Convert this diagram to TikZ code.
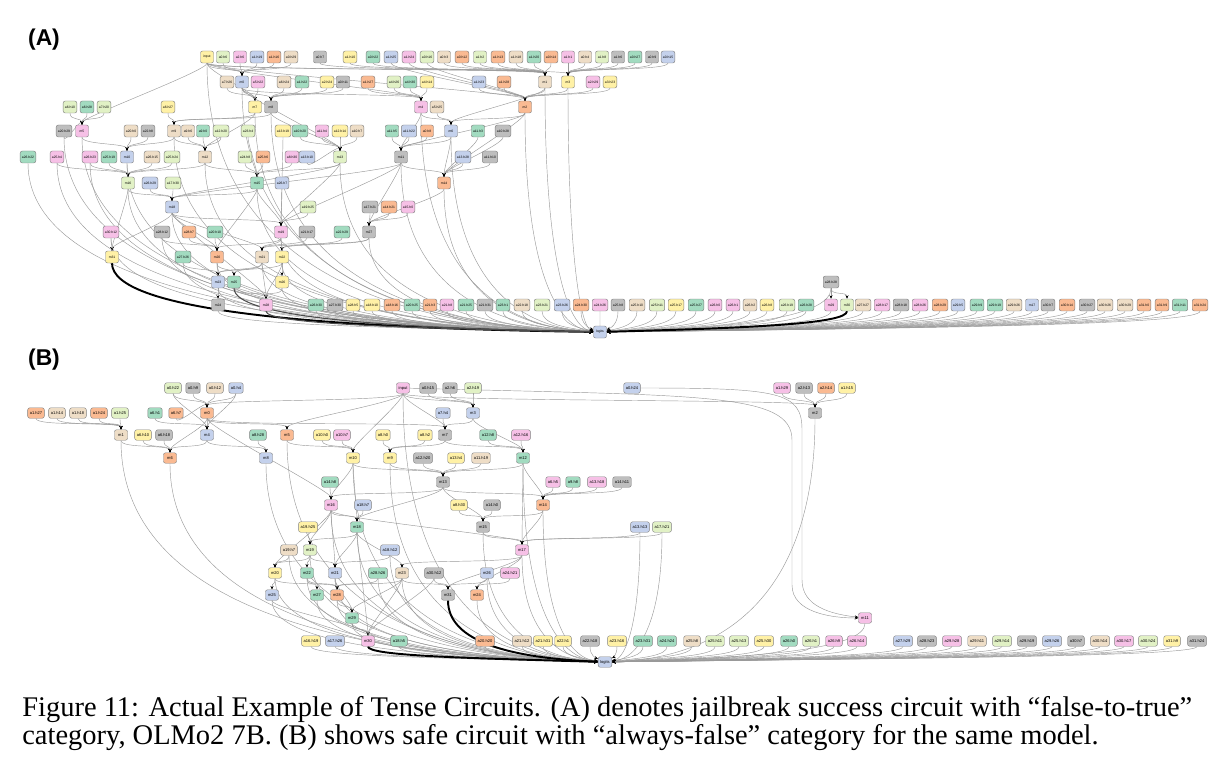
\documentclass[tikz,border=0pt]{standalone}
\usepackage{fontspec}
\setmainfont{Liberation Serif}
\setsansfont{Liberation Sans}
\usetikzlibrary{arrows.meta,calc,backgrounds}
\definecolor{cYel}{RGB}{255,241,166}
\definecolor{cPnk}{RGB}{246,192,230}
\definecolor{cBlu}{RGB}{196,209,236}
\definecolor{cOrg}{RGB}{250,186,146}
\definecolor{cTan}{RGB}{238,221,198}
\definecolor{cGry}{RGB}{190,190,190}
\definecolor{cTel}{RGB}{162,219,192}
\definecolor{cLim}{RGB}{225,241,197}
\tikzset{
  nd/.style={draw=black!50, line width=0.25pt, rounded corners=1.2pt, inner xsep=1pt, inner ysep=0pt, minimum width=0.26cm, minimum height=0.24cm, font=\sffamily\fontsize{1.9}{2.2}\selectfont},
  ndB/.style={nd, minimum height=0.21cm, inner xsep=1.2pt, font=\sffamily\fontsize{2.3}{2.6}\selectfont},
  ed/.style={draw=black!40, line width=0.25pt, -{Stealth[length=2pt,width=1.7pt,color=black]},
    to path={.. controls ($(\tikztostart)+(0,14)$) and ($(\tikztotarget)+(0,-14)$) .. (\tikztotarget)}},
  lg/.style={to path={.. controls ($(\tikztostart)!.7!(\tikztostart |- \tikztotarget)$) and ($(\tikztotarget)!.6!(\tikztostart |- \tikztotarget)+(0,-4)$) .. (\tikztotarget)}},
  heavy/.style={draw=black, line width=1.1pt},
  medium/.style={draw=black!70, line width=0.6pt},
  panel/.style={font=\sffamily\bfseries\fontsize{13}{15}\selectfont, anchor=base, inner sep=0pt},
  capline/.style={font=\fontsize{16.2}{19}\selectfont, anchor=base west, inner sep=0pt}
}
\begin{document}
\begin{tikzpicture}[x=0.02cm, y=-0.02cm]
  \useasboundingbox (0,0) rectangle (1229,780);
  \node[panel] (labA) at (44,46) {(A)};
  \node[panel] (labB) at (44,365) {(B)};

  % panel A
  \foreach \x/\y/\nm/\lb/\cl in {
    207/57/Ainput/input/cYel, 223/57/Aa0h6/a0.h6/cLim, 240/57/Aa2h6/a2.h6/cPnk, 257/57/Aa1h19/a1.h19/cBlu,
    274/57/Aa1h16/a1.h16/cOrg, 291/57/Aa0h29/a0.h29/cTan, 320/57/Aa0h7/a0.h7/cGry, 350/57/Aa1h10/a1.h10/cYel,
    373/57/Aa0h22/a0.h22/cTel, 391/57/Aa1h25/a1.h25/cBlu, 409/57/Aa1h24/a1.h24/cPnk, 427/57/Aa0h16/a0.h16/cLim,
    444/57/Aa0h3/a0.h3/cTan, 462/57/Aa0h12/a0.h12/cOrg, 480/57/Aa1h2/a1.h2/cLim, 498/57/Aa1h13/a1.h13/cOrg,
    516/57/Aa1h18/a1.h18/cTan, 534/57/Aa1h20/a1.h20/cTel, 551/57/Aa0h14/a0.h14/cOrg, 568/57/Aa1h1/a1.h1/cPnk,
    585/57/Aa0h4/a0.h4/cTan, 602/57/Aa1h8/a1.h8/cLim, 618/57/Aa1h6/a1.h6/cGry, 635/57/Aa0h27/a0.h27/cTel,
    652/57/Aa0h9/a0.h9/cGry, 668/57/Aa0h15/a0.h15/cBlu,
    227/82/Aa7h26/a7.h26/cTan, 242/82/Am0/m0/cBlu, 258/82/Aa5h22/a5.h22/cPnk, 284/82/Aa6h24/a6.h24/cTan,
    302/82/Aa1h22/a1.h22/cTel, 327/82/Aa2h24/a2.h24/cYel, 343/82/Aa0h11/a0.h11/cGry, 368/82/Aa1h27/a1.h27/cOrg,
    394/82/Aa4h26/a4.h26/cLim, 410/82/Aa4h30/a4.h30/cTel, 427/82/Aa4h14/a4.h14/cYel, 479/82/Aa1h23/a1.h23/cBlu,
    504/82/Aa1h28/a1.h28/cOrg, 545/82/Am1/m1/cTan, 568/82/Am3/m3/cYel, 593/82/Aa2h29/a2.h29/cPnk,
    610/82/Aa3h23/a3.h23/cYel,
    70/107/Aa6h10/a6.h10/cLim, 87/107/Aa6h28/a6.h28/cTel, 104/107/Aa7h20/a7.h20/cLim, 168/107/Aa6h27/a6.h27/cYel,
    255/107/Am7/m7/cYel, 271/107/Am8/m8/cGry, 421/107/Am4/m4/cPnk, 437/107/Aa5h25/a5.h25/cTan, 525/107/Am2/m2/cOrg,
    64/131/Aa20h29/a20.h29/cGry, 82/131/Am5/m5/cPnk, 131/131/Aa20h0/a20.h0/cTan, 148/131/Aa22h8/a22.h8/cGry,
    174/131/Am9/m9/cTan, 188/131/Aa9h6/a9.h6/cTan, 203/131/Aa9h0/a9.h0/cTel, 221/131/Aa12h20/a12.h20/cLim,
    248/131/Aa23h4/a23.h4/cLim, 283/131/Aa13h19/a13.h19/cYel, 300/131/Aa10h20/a10.h20/cTel, 322/131/Aa11h4/a11.h4/cPnk,
    340/131/Aa12h14/a12.h14/cYel, 357/131/Aa10h7/a10.h7/cTan, 392/131/Aa11h5/a11.h5/cTel, 409/131/Aa11h22/a11.h22/cBlu,
    427/131/Aa0h8/a0.h8/cOrg, 451/131/Am6/m6/cBlu, 478/131/Aa11h3/a11.h3/cTel, 503/131/Aa10h28/a10.h28/cGry,
    28/157/Aa26h22/a26.h22/cTel, 57/157/Aa25h4/a25.h4/cPnk, 90/157/Aa26h23/a26.h23/cPnk, 109/157/Aa25h19/a25.h19/cTel,
    127/157/Am10/m10/cBlu, 152/157/Aa26h15/a26.h15/cTan, 172/157/Aa25h24/a25.h24/cLim, 205/157/Am12/m12/cTan,
    245/157/Aa24h8/a24.h8/cLim, 263/157/Aa25h6/a25.h6/cOrg, 292/157/Aa8h30/a8.h30/cPnk, 307/157/Aa13h10/a13.h10/cBlu,
    340/157/Am13/m13/cLim, 401/157/Am11/m11/cGry, 463/157/Aa13h28/a13.h28/cBlu, 490/157/Aa11h10/a11.h10/cGry,
    128/183/Am16/m16/cLim, 150/183/Aa26h29/a26.h29/cBlu, 173/183/Aa17h30/a17.h30/cLim, 257/183/Am15/m15/cTel,
    282/183/Aa26h7/a26.h7/cBlu, 444/183/Am14/m14/cOrg,
    172/207/Am18/m18/cBlu, 308/207/Aa19h25/a19.h25/cLim, 370/207/Aa17h21/a17.h21/cGry, 389/207/Aa14h21/a14.h21/cOrg,
    408/207/Aa15h0/a15.h0/cPnk,
    111/232/Aa30h12/a30.h12/cPnk, 162/232/Aa28h12/a28.h12/cGry, 189/232/Aa28h7/a28.h7/cOrg, 215/232/Aa20h10/a20.h10/cTel,
    281/232/Am19/m19/cPnk, 307/232/Aa21h17/a21.h17/cGry, 342/232/Aa22h29/a22.h29/cTel, 369/232/Am27/m27/cGry,
    112/257/Am31/m31/cYel, 183/257/Aa27h26/a27.h26/cTel, 217/257/Am20/m20/cOrg, 262/257/Am21/m21/cTan,
    282/257/Am22/m22/cYel,
    218/282/Am23/m23/cBlu, 234/282/Am25/m25/cTel, 282/282/Am26/m26/cYel, 831/282/Aa28h28/a28.h28/cGry,
    218/305/Am24/m24/cGry, 266/305/Am28/m28/cPnk, 831/305/Am29/m29/cPnk, 847/305/Am30/m30/cLim,
    600/332/Alogits/logits/cBlu}
    {\node[nd, fill=\cl] (\nm) at (\x,\y) {\lb};}
  \foreach \x/\lb/\cl [count=\i] in {
    316/a26.h30/cTel, 335/a27.h30/cGry, 353/a28.h5/cYel, 372/a18.h10/cYel, 392/a18.h16/cOrg, 412/a20.h25/cTel,
    430/a21.h3/cOrg, 447/a21.h8/cPnk, 466/a21.h25/cTel, 485/a21.h31/cGry, 503/a23.h1/cTel, 522/a22.h18/cTan,
    542/a23.h21/cLim, 562/a23.h26/cBlu, 581/a24.h30/cOrg, 600/a24.h26/cPnk, 618/a25.h8/cGry, 637/a25.h10/cTan,
    657/a25.h11/cLim, 676/a25.h17/cYel, 696/a25.h27/cTel, 715/a26.h0/cPnk, 733/a26.h1/cPnk, 750/a26.h2/cTan,
    767/a26.h8/cYel, 787/a26.h19/cLim, 806/a26.h28/cTel, 863/a27.h27/cTan, 882/a28.h17/cPnk, 901/a28.h18/cGry,
    920/a28.h26/cPnk, 940/a28.h29/cOrg, 958/a29.h5/cBlu, 977/a29.h9/cTel, 995/a29.h19/cTel, 1014/a29.h26/cTan,
    1032/m17/cBlu, 1048/a30.h7/cGry, 1067/a30.h14/cOrg, 1087/a30.h27/cGry, 1105/a30.h26/cTan, 1125/a30.h29/cTan,
    1144/a31.h0/cOrg, 1162/a31.h9/cOrg, 1180/a31.h11/cTel, 1200/a31.h24/cOrg}
    {\node[nd, fill=\cl] (Ab\i) at (\x,305) {\lb};}

  % panel B
  \foreach \x/\y/\nm/\lb/\cl in {
    173/388/Ba0h22/a0.h22/cLim, 193/388/Ba0h9/a0.h9/cGry, 215/388/Ba0h12/a0.h12/cTan, 236/388/Ba0h4/a0.h4/cBlu,
    403/388/Binput/input/cPnk, 428/388/Ba0h15/a0.h15/cGry, 450/388/Ba2h6/a2.h6/cGry, 473/388/Ba2h19/a2.h19/cLim,
    632/388/Ba0h24/a0.h24/cBlu, 782/388/Ba1h29/a1.h29/cPnk, 804/388/Ba2h13/a2.h13/cGry, 826/388/Ba2h14/a2.h14/cOrg,
    847/388/Ba1h15/a1.h15/cYel,
    36/413/Ba1h27/a1.h27/cOrg, 57/413/Ba1h14/a1.h14/cTan, 78/413/Ba1h18/a1.h18/cTan, 99/413/Ba1h24/a1.h24/cOrg,
    120/413/Ba1h25/a1.h25/cLim, 155/413/Ba6h1/a6.h1/cTel, 176/413/Ba6h7/a6.h7/cOrg, 207/413/Bm0/m0/cOrg,
    443/413/Ba7h4/a7.h4/cBlu, 473/413/Bm3/m3/cBlu, 815/413/Bm2/m2/cGry,
    121/435/Bm1/m1/cTan, 143/435/Ba6h10/a6.h10/cYel, 164/435/Ba6h18/a6.h18/cGry, 207/435/Bm4/m4/cBlu,
    258/435/Ba8h28/a8.h28/cTel, 287/435/Bm5/m5/cOrg, 322/435/Ba10h0/a10.h0/cYel, 342/435/Ba10h7/a10.h7/cPnk,
    383/435/Ba8h0/a8.h0/cYel, 425/435/Ba8h2/a8.h2/cYel, 445/435/Bm7/m7/cGry, 488/435/Ba12h8/a12.h8/cTel,
    521/435/Ba12h16/a12.h16/cPnk,
    170/458/Bm6/m6/cOrg, 266/458/Bm8/m8/cBlu, 353/458/Bm10/m10/cYel, 390/458/Bm9/m9/cYel,
    423/458/Ba12h20/a12.h20/cGry, 456/458/Ba13h4/a13.h4/cYel, 481/458/Ba11h19/a11.h19/cTan, 523/458/Bm12/m12/cTel,
    330/482/Ba14h8/a14.h8/cTel, 443/482/Bm13/m13/cGry, 553/482/Ba6h5/a6.h5/cPnk, 573/482/Ba9h8/a9.h8/cTel,
    597/482/Ba13h18/a13.h18/cPnk, 622/482/Ba14h11/a14.h11/cGry,
    331/505/Bm16/m16/cPnk, 363/505/Ba18h7/a18.h7/cBlu, 459/505/Ba8h30/a8.h30/cYel, 492/505/Ba14h0/a14.h0/cGry,
    543/505/Bm14/m14/cOrg,
    308/527/Ba19h25/a19.h25/cYel, 357/527/Bm18/m18/cTel, 483/527/Bm15/m15/cGry, 640/527/Ba13h13/a13.h13/cBlu,
    662/527/Ba17h21/a17.h21/cLim,
    289/550/Ba19h7/a19.h7/cTan, 310/550/Bm19/m19/cLim, 390/550/Ba18h12/a18.h12/cBlu, 522/550/Bm17/m17/cPnk,
    275/573/Bm20/m20/cYel, 307/573/Bm22/m22/cTel, 335/573/Bm21/m21/cBlu, 378/573/Ba28h26/a28.h26/cTel,
    402/573/Bm23/m23/cTan, 434/573/Ba30h12/a30.h12/cGry, 487/573/Bm26/m26/cBlu, 510/573/Ba24h21/a24.h21/cPnk,
    272/595/Bm25/m25/cBlu, 317/595/Bm27/m27/cTel, 337/595/Bm28/m28/cOrg, 448/595/Bm31/m31/cGry,
    477/595/Bm24/m24/cOrg,
    352/618/Bm29/m29/cTel, 865/618/Bm11/m11/cPnk,
    368/641/Bm30/m30/cPnk, 605/662/Blogits/logits/cBlu}
    {\node[ndB, fill=\cl] (\nm) at (\x,\y) {\lb};}
  \foreach \x/\lb/\cl [count=\i] in {
    311/a16.h19/cYel, 335/a17.h26/cBlu, 399/a18.h5/cTel, 485/a20.h20/cOrg, 522/a21.h12/cTan, 543/a21.h31/cYel,
    563/a22.h1/cYel, 590/a22.h18/cGry, 617/a23.h16/cYel, 643/a23.h31/cTel, 667/a24.h24/cTel, 692/a25.h8/cTan,
    715/a25.h11/cLim, 739/a25.h13/cLim, 764/a25.h30/cYel, 789/a26.h0/cTel, 811/a26.h1/cLim, 834/a26.h9/cPnk,
    857/a26.h14/cPnk, 903/a27.h29/cBlu, 927/a28.h23/cGry, 952/a29.h28/cPnk, 977/a29.h11/cTan, 1002/a29.h14/cLim,
    1027/a29.h19/cGry, 1052/a29.h26/cBlu, 1076/a30.h7/cGry, 1100/a30.h14/cTan, 1124/a30.h17/cPnk, 1148/a30.h24/cLim,
    1172/a31.h9/cYel, 1197/a31.h24/cGry}
    {\node[ndB, fill=\cl] (Bb\i) at (\x,641) {\lb};}

  \begin{scope}[on background layer]
    % panel A connectors
    \foreach \s/\t in {
      Ainput/Am0, Aa0h6/Am0, Aa2h6/Am0, Aa1h19/Am0, Aa1h16/Am0, Aa0h29/Am0,
      Ainput/Am1, Aa0h3/Am1, Aa0h12/Am1, Aa1h2/Am1, Aa1h13/Am1, Aa1h18/Am1, Aa1h20/Am1, Aa0h14/Am1, Aa0h7/Am1, Aa1h10/Am1, Aa0h22/Am1,
      Aa1h1/Am3, Aa0h4/Am3, Aa1h8/Am3, Aa1h6/Am3, Aa0h27/Am3, Aa0h9/Am3, Aa0h15/Am3, Ainput/Am3,
      Ainput/Am2, Aa1h23/Am2, Aa1h28/Am2, Am1/Am2, Am3/Am2, Aa2h29/Am2, Aa3h23/Am2, Aa1h25/Am2, Aa1h24/Am2, Aa0h16/Am2,
      Aa7h26/Am7, Am0/Am7, Aa5h22/Am7, Ainput/Am7,
      Am0/Am8, Aa6h24/Am8, Aa1h22/Am8, Aa2h24/Am8, Aa0h11/Am8,
      Aa1h27/Am4, Aa4h26/Am4, Aa4h30/Am4, Aa4h14/Am4, Am0/Am4, Ainput/Am4,
      Aa6h10/Am5, Aa6h28/Am5, Aa7h20/Am5, Aa20h29/Am5, Ainput/Am5,
      Aa6h27/Am9, Am7/Am9, Am8/Am9,
      Am4/Am6, Aa5h25/Am6, Am2/Am6, Am1/Am6,
      Aa20h0/Am10, Aa22h8/Am10, Am9/Am10, Am5/Am10,
      Am9/Am12, Aa9h6/Am12, Aa9h0/Am12, Aa12h20/Am12, Am7/Am12,
      Aa10h20/Am13, Aa11h4/Am13, Aa12h14/Am13, Aa10h7/Am13, Am8/Am13, Am0/Am13, Aa13h10/Am13,
      Aa11h5/Am11, Aa11h22/Am11, Aa0h8/Am11, Am6/Am11, Am4/Am11, Am2/Am11,
      Aa13h28/Am14, Aa11h10/Am14, Am6/Am14, Am11/Am14, Aa11h3/Am14, Aa10h28/Am14, Am2/Am14,
      Am10/Am16, Aa26h23/Am16, Aa25h19/Am16, Aa25h4/Am16, Aa26h15/Am16, Aa25h24/Am16, Am12/Am16,
      Aa23h4/Am15, Aa24h8/Am15, Aa25h6/Am15, Am13/Am15, Am12/Am15, Aa8h30/Am15,
      Am16/Am18, Aa26h29/Am18, Aa17h30/Am18, Am15/Am18, Am11/Am18, Am13/Am18,
      Aa19h25/Am19, Am18/Am19, Am15/Am19, Aa13h19/Am19, Aa26h7/Am19, Am13/Am19, Am11/Am19,
      Aa17h21/Am27, Aa14h21/Am27, Aa15h0/Am27, Am14/Am27, Am11/Am27,
      Aa30h12/Am31, Am18/Am31, Am16/Am31,
      Aa28h12/Am20, Aa28h7/Am20, Aa20h10/Am20, Am18/Am20, Am19/Am20, Am15/Am20,
      Am19/Am21, Aa21h17/Am21, Am27/Am21, Am18/Am21,
      Am19/Am22, Aa22h29/Am22, Am27/Am22,
      Aa27h26/Am23, Am20/Am23, Am21/Am23, Am22/Am23,
      Am20/Am25, Am21/Am25, Am22/Am26, Am23/Am24,
      Am21/Am28, Am22/Am28, Am26/Am28, Am25/Am28, Am18/Am28,
      Aa28h28/Am29, Aa28h28/Am30}
      {\draw[ed] (\s) to (\t);}
    \foreach \s in {Aa26h22, Aa25h4, Aa20h29, Am5, Am10, Am16, Aa30h12, Am18, Am20, Aa27h26, Am23, Am24,
      Am26, Am21, Am22, Am19, Am27, Am13, Am15, Am12, Am9, Ainput, Am0, Am7, Am8, Am11, Am14, Am6,
      Am4, Am2, Am1, Am3, Am29, Aa28h28, Aa26h23, Aa28h12}
      {\draw[ed, lg] (\s) to (Alogits);}
    \foreach \i in {1,...,46} {\draw[ed, lg] (Ab\i) to (Alogits);}
    \draw[ed, lg, heavy] (Am31) to (Alogits);
    \draw[ed, lg, heavy] (Am30) to (Alogits);
    \draw[ed, lg, medium] (Am28) to (Alogits);
    \draw[ed, lg, medium] (Am25) to (Alogits);

    % panel B connectors
    \foreach \s/\t in {
      Ba0h22/Bm0, Ba0h9/Bm0, Ba0h12/Bm0, Ba0h4/Bm0, Ba6h7/Bm0, Binput/Bm0,
      Ba1h27/Bm1, Ba1h14/Bm1, Ba1h18/Bm1, Ba1h24/Bm1, Ba1h25/Bm1,
      Bm0/Bm4, Ba0h22/Bm4, Ba6h1/Bm4, Ba0h4/Bm4,
      Bm1/Bm6, Ba6h10/Bm6, Ba6h18/Bm6, Bm0/Bm6, Bm4/Bm6,
      Bm4/Bm8, Ba8h28/Bm8, Bm0/Bm5, Binput/Bm5,
      Binput/Bm3, Ba0h15/Bm3, Ba2h6/Bm3, Ba2h19/Bm3,
      Ba1h29/Bm2, Ba2h13/Bm2, Ba2h14/Bm2, Ba1h15/Bm2, Binput/Bm2,
      Ba7h4/Bm7, Bm3/Bm7, Bm0/Bm7, Binput/Bm7,
      Ba10h0/Bm10, Ba10h7/Bm10, Binput/Bm10, Bm5/Bm10,
      Ba8h0/Bm9, Ba8h2/Bm9, Bm7/Bm9,
      Ba12h8/Bm12, Ba12h16/Bm12, Bm7/Bm12, Bm3/Bm12,
      Bm9/Bm13, Ba12h20/Bm13, Ba13h4/Bm13, Ba11h19/Bm13, Bm12/Bm13, Bm10/Bm13,
      Ba14h8/Bm16, Bm0/Bm16, Bm13/Bm16, Bm10/Bm16,
      Ba6h5/Bm14, Ba9h8/Bm14, Ba13h18/Bm14, Ba14h11/Bm14, Bm13/Bm14, Bm12/Bm14,
      Bm16/Bm18, Ba18h7/Bm18, Bm13/Bm18, Bm10/Bm18,
      Ba8h30/Bm15, Ba14h0/Bm15, Bm13/Bm15, Bm14/Bm15,
      Bm14/Bm17, Bm15/Bm17, Ba13h13/Bm17, Ba17h21/Bm17, Bm16/Bm17, Bm12/Bm17,
      Ba19h25/Bm19, Bm18/Bm19, Bm16/Bm19,
      Ba19h7/Bm20, Bm19/Bm20, Bm16/Bm20, Bm19/Bm22,
      Bm19/Bm21, Bm18/Bm21, Ba18h12/Bm21, Bm16/Bm21,
      Bm18/Bm23, Bm17/Bm23, Bm20/Bm25, Bm22/Bm27,
      Bm21/Bm28, Bm22/Bm28, Bm23/Bm28, Ba28h26/Bm28, Bm20/Bm28,
      Ba30h12/Bm31, Bm26/Bm31, Bm17/Bm31, Bm23/Bm31,
      Ba24h21/Bm24, Bm17/Bm24,
      Bm28/Bm29, Bm21/Bm29, Bm23/Bm29,
      Bm29/Bm30, Bm25/Bm30, Bm18/Bm30, Bm23/Bm30, Ba30h12/Bm30}
      {\draw[ed] (\s) to (\t);}
    \draw[ed] (Ba0h24) .. controls (780,388) and (802,392) .. (802,430) -- (802,580) .. controls (802,606) and (830,614) .. (Bm11);
    \draw[ed] (Binput) .. controls (700,396) and (792,392) .. (792,440) -- (792,585) .. controls (792,612) and (830,618) .. (Bm11);
    \foreach \s in {Bm25, Bm20, Bm22, Bm27, Bm28, Bm24, Bm26, Bm11, Bm2, Bm17, Bm21, Bm23, Bm15,
      Bm14, Bm6, Bm1, Bm8, Bm19, Bm29, Bm5, Bm10, Bm9, Binput, Bm12, Bm16, Bm18,
      Ba28h26, Ba18h12, Ba19h7, Ba13h13, Ba17h21}
      {\draw[ed, lg] (\s) to (Blogits);}
    \foreach \i in {1,...,32} {\draw[ed, lg] (Bb\i) to (Blogits);}
    \draw[ed, lg, heavy] (Bm31) to (Blogits);
    \draw[ed, lg, heavy] (Bm30) to (Blogits);
  \end{scope}

  \node[capline] (capA) at (22,716) {Figure 11: Actual Example of Tense Circuits. (A) denotes jailbreak success circuit with “false-to-true”};
  \node[capline] (capB) at (22,744) {category, OLMo2 7B. (B) shows safe circuit with “always-false” category for the same model.};
\end{tikzpicture}
\end{document}
